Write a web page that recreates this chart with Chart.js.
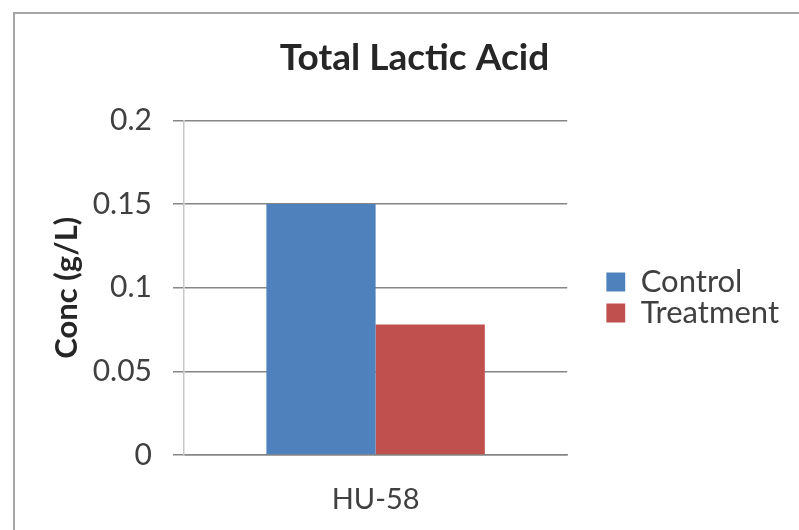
<!DOCTYPE html>
<html>
<head>
<meta charset="utf-8">
<script src="https://cdn.jsdelivr.net/npm/chart.js@4/dist/chart.umd.min.js"></script>
<style>
  html, body { margin: 0; padding: 0; background: #fff; }
  #wrap { position: relative; width: 799px; height: 530px; overflow: hidden; }
  #frame { position: absolute; left: 13px; top: 12px; width: 820px; height: 560px;
           border-left: 2px solid #a6a6a6; border-top: 2px solid #a6a6a6; }
  canvas { position: absolute; left: 0; top: 0; }
</style>
</head>
<body>
<div id="wrap">
  <div id="frame"></div>
  <canvas id="grafico" width="799" height="530"></canvas>
</div>
<script>
// datos del grafico
var categorias = ['HU-58'];
var control = [0.15];
var tratamiento = [0.078];
var ticksY = [0, 0.05, 0.1, 0.15, 0.2];

var fuente = 'Lato, "Open Sans", sans-serif';
var gris = '#868686';

var ctx = document.getElementById('grafico').getContext('2d');
var chart = new Chart(ctx, {
  type: 'bar',
  data: {
    labels: categorias,
    datasets: [
      {
        label: 'Control',
        backgroundColor: '#4f81bd',
        data: control
      },
      {
        label: 'Treatment',
        backgroundColor: '#c0504d',
        data: tratamiento
      }
    ]
  },
  options: {
    responsive: false,
    animation: false,
    layout: { padding: { left: 40, top: 13, right: 10, bottom: 0 } },
    datasets: {
      bar: { categoryPercentage: 0.57, barPercentage: 1.0 }
    },
    scales: {
      x: {
        grid: { display: false },
        border: { display: true, color: gris, width: 1.5 },
        ticks: { color: '#404040', font: { family: fuente, size: 29 }, padding: 19 },
        afterFit: function (s) { s.height = 75; }
      },
      y: {
        min: 0,
        max: 0.2,
        afterBuildTicks: function (s) {
          s.ticks = ticksY.map(function (v) { return { value: v }; });
        },
        grid: { color: gris, lineWidth: 1.5, tickLength: 11 },
        border: { display: true, color: '#c8c8c8', width: 1.5 },
        ticks: {
          color: '#404040',
          padding: 21,
          font: { family: fuente, size: 30 },
          callback: function (v) { return String(v); }
        },
        title: {
          display: true,
          text: 'Conc (g/L)',
          color: '#262626',
          font: { family: fuente, size: 31, weight: 'bold' },
          padding: { top: 8, bottom: 0 }
        },
        afterFit: function (s) { s.width = 144; }
      },
      // hueco entre el area y la leyenda
      hueco: {
        position: 'right',
        display: true,
        grid: { display: false },
        border: { display: false },
        ticks: { display: false },
        afterFit: function (s) { s.width = 39; }
      }
    },
    plugins: {
      title: {
        display: true,
        text: 'Total Lactic Acid',
        color: '#262626',
        font: { family: fuente, size: 37, weight: 'bold' },
        padding: { top: 23, bottom: 40 }
      },
      legend: {
        position: 'right',
        maxWidth: 400,
        title: { display: true, text: '', font: { size: 10 }, padding: { top: 40, bottom: 0 } },
        labels: {
          color: '#404040',
          font: { family: fuente, size: 31 },
          boxWidth: 19,
          boxHeight: 19,
          padding: 0
        }
      },
      tooltip: { enabled: false }
    }
  }
});
</script>
</body>
</html>
